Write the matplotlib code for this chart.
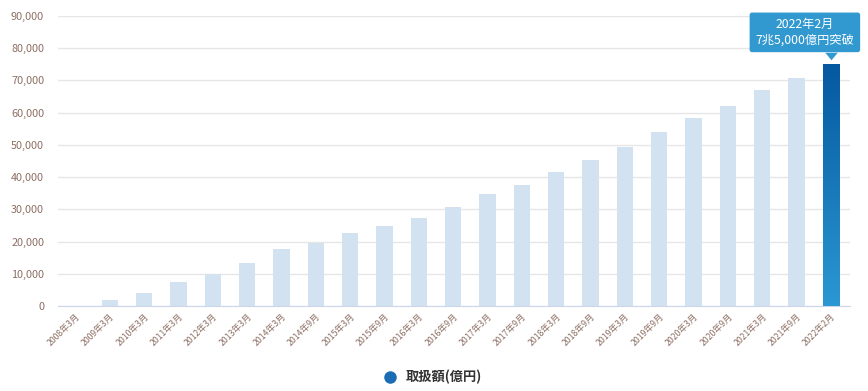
import numpy as np
import matplotlib
matplotlib.use('Agg')
import matplotlib.pyplot as plt
from matplotlib.colors import LinearSegmentedColormap
from matplotlib.ticker import FuncFormatter
from matplotlib.lines import Line2D
from matplotlib import transforms

plt.rcParams['font.family'] = ['Noto Sans CJK JP', 'DejaVu Sans']

# ── data ───────────────────────────────────────────────────────────────────
labels = ['2008年3月', '2009年3月', '2010年3月', '2011年3月', '2012年3月',
          '2013年3月', '2014年3月', '2014年9月', '2015年3月', '2015年9月',
          '2016年3月', '2016年9月', '2017年3月', '2017年9月', '2018年3月',
          '2018年9月', '2019年3月', '2019年9月', '2020年3月', '2020年9月',
          '2021年3月', '2021年9月', '2022年2月']
values = [150, 2000, 4100, 7300, 10000, 13500, 17600, 19500, 22600, 24800,
          27300, 30600, 34800, 37600, 41600, 45300, 49500, 54000, 58300,
          62000, 66900, 70900, 75000]
series_name = '取扱額(億円)'
callout = '2022年2月\n7兆5,000億円突破'

LIGHT = '#d3e2f0'
TICK_C = '#8c6e62'

fig = plt.figure(figsize=(8.68, 3.91), dpi=100)
ax = fig.add_axes([0.0668, 0.2174, 0.9122, 0.7416])

x = np.arange(len(values))
colors = [LIGHT] * (len(values) - 1) + ['none']
bars = ax.bar(x, values, width=0.47, color=colors, zorder=2)

# gradient on the last bar
last = bars[-1]
grad = LinearSegmentedColormap.from_list('g', ['#2b98d2', '#0558a0'])
bx, bw, bh = last.get_x(), last.get_width(), last.get_height()
img = ax.imshow(np.linspace(0, 1, 256).reshape(-1, 1), cmap=grad, origin='lower',
                extent=[bx, bx + bw, 0, bh], aspect='auto', zorder=3)
img.set_clip_path(last)

ax.set_xlim(-0.51, len(values) - 0.45)
ax.set_ylim(0, 90000)
ax.set_yticks(np.arange(0, 90001, 10000))
ax.yaxis.set_major_formatter(FuncFormatter(lambda v, p: f'{int(v):,}'))
ax.grid(axis='y', color='#e6e6e6', lw=1, zorder=0)
ax.set_axisbelow(True)
for s in ['top', 'right', 'left']:
    ax.spines[s].set_visible(False)
ax.spines['bottom'].set_color('#ccd6eb')
ax.tick_params(axis='y', length=0, pad=10, labelsize=7.8, labelcolor=TICK_C)
ax.tick_params(axis='x', length=0, pad=4, labelsize=6.3, labelcolor=TICK_C)
ax.set_xticks(x)
ax.set_xticklabels(labels, rotation=45, ha='right', rotation_mode='anchor')

# callout above the last bar
ax.annotate(callout, xy=(x[-1], values[-1]), xytext=(-26, 32),
            textcoords='offset pixels', ha='center', va='center',
            fontsize=8.8, color='white', linespacing=1.2,
            bbox=dict(boxstyle='round,pad=0.42,rounding_size=0.15',
                      fc='#3199d0', ec='#3199d0'),
            annotation_clip=False, zorder=5)
tri = transforms.offset_copy(ax.transData, fig, x=0, y=8, units='dots')
ax.plot(x[-1], values[-1], transform=tri, marker=[(-1, 0.6), (1, 0.6), (0, -0.6)],
        ms=9, color='#3199d0', mec='none', clip_on=False, zorder=5)

handle = Line2D([], [], marker='o', ls='none', ms=8, color='#1a6db3')
fig.legend([handle], [series_name], loc='center', bbox_to_anchor=(0.495, 0.035),
           frameon=False, handletextpad=0.2,
           labelcolor='#333333', prop={'weight': 'bold', 'size': 9.5})

fig.savefig('out.png', dpi=100)
